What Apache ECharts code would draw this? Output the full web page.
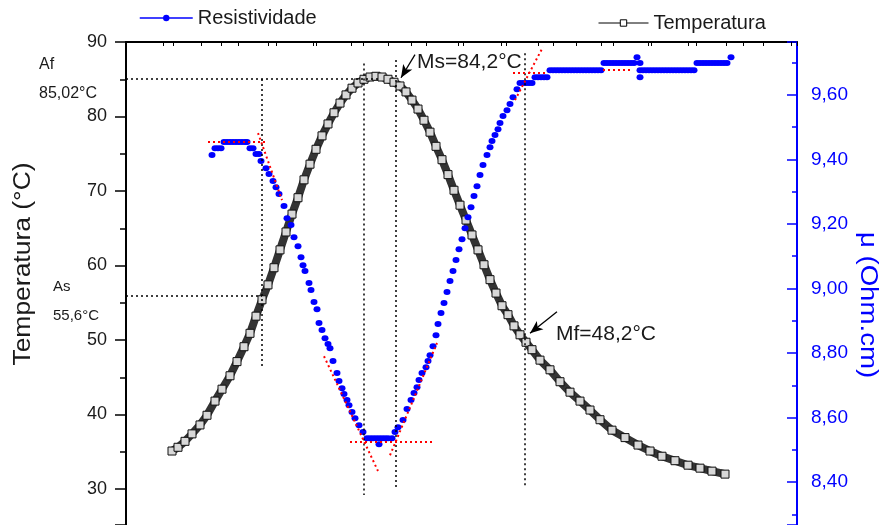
<!DOCTYPE html>
<html>
<head>
<meta charset="utf-8">
<title>Temperatura x Resistividade</title>
<script src="https://cdn.jsdelivr.net/npm/echarts@6/dist/echarts.min.js"></script>
</head>
<body style="margin:0">
<div id="main" style="width:881px;height:525px"></div>
<script>
// [tempo, temperatura °C]
var temperatura = [
  [4.6,35.1],[5.2,35.6],[5.9,36.4],[6.6,37.4],[7.4,38.6],[8.1,39.9],[8.9,41.8],[9.6,43.4],[10.4,45.2],[11.1,47.1],
  [11.8,49.1],[12.4,50.9],[13.0,53.2],[13.6,55.4],[14.2,57.4],[14.8,59.7],[15.4,62.1],[16.0,64.5],[16.6,66.9],[17.2,69.1],
  [17.8,71.5],[18.4,73.6],[19.0,75.6],[19.6,77.4],[20.2,79.0],[20.8,80.5],[21.4,81.8],[22.0,82.9],[22.6,83.8],[23.2,84.5],
  [23.8,85.0],[24.4,85.3],[25.0,85.4],[25.6,85.3],[26.2,85.0],[26.8,84.6],[27.4,84.1],[28.0,83.3],[28.6,82.2],[29.2,81.0],
  [29.8,79.5],[30.4,77.9],[31.0,76.0],[31.6,74.2],[32.2,72.2],[32.8,70.1],[33.4,68.1],[34.0,66.1],[34.6,64.1],[35.2,62.1],
  [35.8,60.1],[36.4,58.1],[37.0,56.3],[37.6,54.6],[38.2,53.4],[38.8,51.9],[39.4,50.7],[40.0,49.7],[40.6,48.7],[41.4,47.3],
  [42.4,46.0],[43.4,44.4],[44.4,43.0],[45.4,41.8],[46.4,40.6],[47.4,39.3],[48.6,37.9],[49.9,36.9],[51.2,35.9],[52.4,35.1],
  [53.6,34.4],[54.9,33.8],[56.2,33.2],[57.4,32.8],[58.6,32.4],[59.9,32.0]
];

// [tempo, resistividade]
var resistividade = [
  [8.6,9.414],[8.9,9.435],[9.2,9.435],[9.5,9.435],
  [9.8,9.454],[10.1,9.454],[10.4,9.454],[10.7,9.454],[11.0,9.454],[11.3,9.454],[11.6,9.454],[11.9,9.454],[12.1,9.454],
  [12.4,9.435],[12.7,9.435],[13.0,9.417],[13.3,9.417],
  [13.5,9.395],[14.0,9.373],[14.3,9.355],[14.7,9.333],[15.0,9.314],[15.3,9.293],[15.8,9.256],[16.1,9.218],[16.5,9.197],
  [16.8,9.159],[17.2,9.131],[17.5,9.097],[17.7,9.072],[17.9,9.054],[18.3,9.017],[18.5,8.995],[18.8,8.958],[19.1,8.936],
  [19.3,8.893],[19.6,8.871],[19.9,8.846],[20.2,8.828],[20.4,8.815],[20.7,8.775],[21.1,8.738],[21.3,8.713],[21.6,8.691],
  [21.8,8.673],[22.1,8.654],[22.3,8.638],[22.6,8.617],[22.9,8.598],[23.3,8.576],[23.7,8.555],
  [24.1,8.536],[24.4,8.536],[24.7,8.536],[25.0,8.536],[25.3,8.536],[25.3,8.517],[25.6,8.536],[25.9,8.536],[26.2,8.536],[26.6,8.536],
  [26.9,8.555],[27.2,8.570],[27.7,8.592],[28.1,8.626],[28.5,8.654],[28.8,8.676],[29.1,8.694],[29.3,8.716],[29.6,8.738],
  [30.0,8.756],[30.2,8.775],[30.4,8.793],[30.7,8.821],[31.0,8.855],[31.2,8.890],[31.5,8.924],[31.8,8.955],[32.1,8.989],
  [32.4,9.023],[32.7,9.054],[33.0,9.088],[33.3,9.122],[33.6,9.153],[33.9,9.187],[34.2,9.221],[34.5,9.252],[34.8,9.287],
  [35.1,9.317],[35.4,9.352],[35.7,9.383],[36.1,9.414],[36.4,9.438],[36.6,9.457],[36.9,9.476],[37.2,9.494],[37.4,9.513],
  [37.7,9.535],[38.1,9.553],[38.4,9.572],[38.7,9.593],[39.1,9.618],
  [39.4,9.637],[39.7,9.637],[40.0,9.637],[40.3,9.637],[40.6,9.637],
  [40.9,9.655],[41.2,9.655],[41.5,9.655],[41.8,9.655],[42.1,9.655],
  [42.4,9.677],[42.7,9.677],[43.0,9.677],[43.3,9.677],[43.6,9.677],[43.9,9.677],[44.2,9.677],[44.5,9.677],[44.8,9.677],
  [45.1,9.677],[45.4,9.677],[45.7,9.677],[46.0,9.677],[46.3,9.677],[46.6,9.677],[46.9,9.677],[47.2,9.677],[47.5,9.677],
  [47.8,9.699],[48.1,9.699],[48.4,9.699],[48.7,9.699],[49.0,9.699],[49.3,9.699],[49.6,9.699],[49.9,9.699],[50.2,9.699],
  [50.5,9.699],[50.8,9.699],
  [51.1,9.717],[51.4,9.699],[51.4,9.677],[51.4,9.655],
  [51.7,9.677],[52.0,9.677],[52.3,9.677],[52.6,9.677],[52.9,9.677],[53.2,9.677],[53.5,9.677],[53.8,9.677],[54.1,9.677],
  [54.4,9.677],[54.7,9.677],[55.0,9.677],[55.3,9.677],[55.6,9.677],[55.9,9.677],[56.2,9.677],[56.5,9.677],[56.8,9.677],
  [57.1,9.699],[57.4,9.699],[57.7,9.699],[58.0,9.699],[58.3,9.699],[58.6,9.699],[58.9,9.699],[59.2,9.699],[59.5,9.699],
  [59.8,9.699],[60.1,9.699],
  [60.5,9.717]
];

// red fitted tangents (right axis units)
var tangentes = [
  [[8.2,9.454],[13.9,9.454]],
  [[13.2,9.482],[15.6,9.274]],
  [[19.8,8.790],[25.2,8.434]],
  [[22.4,8.524],[30.6,8.524]],
  [[26.4,8.483],[31.1,8.831]],
  [[38.7,9.668],[42.1,9.668]],
  [[38.9,9.584],[41.7,9.749]],
  [[47.7,9.677],[50.4,9.677]]
];

// dotted guides (left axis units)
var guias = [
  [[0,85.02],[25.2,85.02]],
  [[0,56.0],[13.6,56.0]],
  [[13.6,85.02],[13.6,46.5]],
  [[23.8,87.1],[23.8,29.2]],
  [[27.0,87.6],[27.0,29.9]],
  [[39.9,88.5],[39.9,30.5]]
];

var setas = [
  [[28.9,88.3],[27.5,85.2]],
  [[43.1,53.8],[40.4,50.9]]
];

var FONT = 'Liberation Sans, Arial, sans-serif';
var BLUE = '#0000ff';

var chartDom = document.getElementById('main');
var myChart = echarts.init(chartDom);

var markGuias = guias.map(function (g) {
  var ls = { color: '#000', type: [2, 3], width: 1.5 };
  return [{ coord: g[0], symbol: 'none', lineStyle: ls }, { coord: g[1], symbol: 'none', lineStyle: ls }];
}).concat(setas.map(function (s) {
  var ls = { color: '#000', type: 'solid', width: 1.3 };
  return [{ coord: s[0], symbol: 'none', lineStyle: ls }, { coord: s[1], symbol: 'arrow', symbolSize: [8, 13], lineStyle: ls }];
}));

var markTangentes = tangentes.map(function (t) {
  return [{ coord: t[0] }, { coord: t[1] }];
});

var option = {
  animation: false,
  backgroundColor: '#fff',
  textStyle: { fontFamily: FONT },
  grid: { left: 126, right: 84, top: 42, bottom: 0 },
  legend: [
    {
      data: [{ name: 'Resistividade', lineStyle: { opacity: 1, width: 1.5, color: BLUE } }],
      left: 134, top: 3, itemWidth: 53, itemHeight: 8,
      textStyle: { fontSize: 20, color: '#1a1a1a', fontFamily: FONT }
    },
    {
      data: [{ name: 'Temperatura', itemStyle: { color: '#fff', borderColor: '#000', borderWidth: 1 }, lineStyle: { width: 1, color: '#000' } }],
      left: 593, top: 8, itemWidth: 50, itemHeight: 8,
      textStyle: { fontSize: 20, color: '#1a1a1a', fontFamily: FONT }
    }
  ],
  xAxis: [
    { type: 'value', min: 0, max: 67.1, show: false },
    {
      type: 'value', position: 'top', min: 0, max: 67.1, interval: 3.75,
      axisLine: { show: true, onZero: false, lineStyle: { color: '#000', width: 2 } },
      axisTick: { inside: true, length: 4, lineStyle: { color: '#000' } },
      axisLabel: { show: false }, splitLine: { show: false }
    },
    {
      type: 'value', position: 'top', min: 0, max: 67.1, interval: 4.75,
      axisLine: { show: false, onZero: false },
      axisTick: { inside: true, length: 4, lineStyle: { color: '#000' } },
      axisLabel: { show: false }, splitLine: { show: false }
    }
  ],
  yAxis: [
    {
      type: 'value', position: 'left', min: 25.17, max: 90, splitNumber: 7,
      axisLine: { show: true, onZero: false, lineStyle: { color: '#000', width: 2 } },
      axisTick: { length: 11, lineStyle: { color: '#000', width: 1.5 } },
      minorTick: { show: true, splitNumber: 2, length: 6, lineStyle: { color: '#000', width: 1.5 } },
      axisLabel: { fontSize: 18, color: '#1a1a1a', margin: 19, fontFamily: FONT, showMinLabel: false },
      splitLine: { show: false }
    },
    {
      type: 'value', position: 'right', min: 8.2667, max: 9.7643, splitNumber: 8,
      axisLine: { show: true, onZero: false, lineStyle: { color: BLUE, width: 2 } },
      axisTick: { inside: true, length: 10, lineStyle: { color: BLUE, width: 1.5 } },
      minorTick: { show: true, splitNumber: 2, length: 5, lineStyle: { color: BLUE, width: 1.5 } },
      axisLabel: {
        fontSize: 19, color: BLUE, margin: 14, fontFamily: FONT,
        showMinLabel: false, showMaxLabel: false,
        formatter: function (v) { return v.toFixed(2).replace('.', ','); }
      },
      splitLine: { show: false }
    }
  ],
  graphic: [
    { type: 'text', x: 24, y: 264, rotation: Math.PI / 2, scaleX: 1.15,
      style: { text: 'Temperatura (°C)', font: '23px ' + FONT, fill: '#1a1a1a', textAlign: 'center', textVerticalAlign: 'middle' } },
    { type: 'text', x: 867, y: 305, rotation: -Math.PI / 2, scaleX: 1.2,
      style: { text: 'μ (Ohm.cm)', font: '23px ' + FONT, fill: BLUE, textAlign: 'center', textVerticalAlign: 'middle' } },
    { type: 'text', x: 39, y: 65, style: { text: 'Af', font: '16px ' + FONT, fill: '#1a1a1a', textVerticalAlign: 'middle' } },
    { type: 'text', x: 39, y: 94, style: { text: '85,02°C', font: '16px ' + FONT, fill: '#1a1a1a', textVerticalAlign: 'middle' } },
    { type: 'text', x: 53, y: 287, style: { text: 'As', font: '15px ' + FONT, fill: '#1a1a1a', textVerticalAlign: 'middle' } },
    { type: 'text', x: 53, y: 316, style: { text: '55,6°C', font: '15px ' + FONT, fill: '#1a1a1a', textVerticalAlign: 'middle' } },
    { type: 'text', x: 417, y: 62, style: { text: 'Ms=84,2°C', font: '21px ' + FONT, fill: '#1a1a1a', textVerticalAlign: 'middle' } },
    { type: 'text', x: 556, y: 334, style: { text: 'Mf=48,2°C', font: '21px ' + FONT, fill: '#1a1a1a', textVerticalAlign: 'middle' } }
  ],
  series: [
    {
      name: 'Temperatura', type: 'line', xAxisIndex: 0, yAxisIndex: 0,
      data: temperatura, showAllSymbol: true,
      symbol: 'rect', symbolSize: 8,
      itemStyle: { color: '#d8d8d8', borderColor: '#111', borderWidth: 1 },
      lineStyle: { color: '#333', width: 8 },
      z: 3,
      markLine: { silent: true, animation: false, label: { show: false }, data: markGuias }
    },
    {
      name: 'Resistividade', type: 'line', xAxisIndex: 0, yAxisIndex: 1,
      data: resistividade, showAllSymbol: true,
      symbol: 'circle', symbolSize: [7, 6],
      itemStyle: { color: BLUE },
      lineStyle: { color: BLUE, opacity: 0 },
      z: 4,
      markLine: {
        silent: true, animation: false, symbol: ['none', 'none'], label: { show: false },
        lineStyle: { color: '#ff0000', type: [2, 3], width: 2 },
        data: markTangentes
      }
    }
  ]
};

option && myChart.setOption(option);
</script>
</body>
</html>
